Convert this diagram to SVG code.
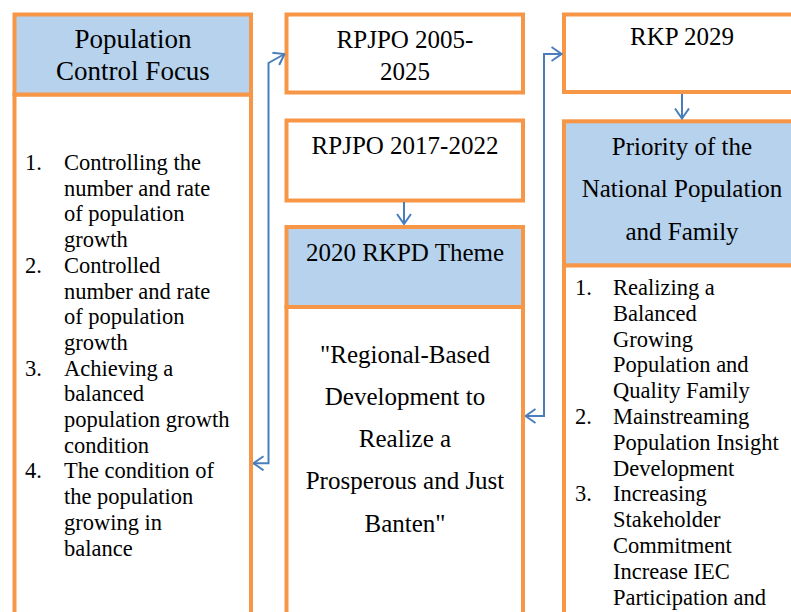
<svg xmlns="http://www.w3.org/2000/svg" width="791" height="612" viewBox="0 0 791 612">
  <style>
    .box { fill: #ffffff; stroke: #F79646; stroke-width: 4; }
    .head { fill: #B7D2EC; stroke: #F79646; stroke-width: 4; }
    text { fill: #000000; }
    .h { font-size: 25px; text-anchor: middle; }
    .list { font-size: 22.5px; }
    .conn { fill: none; stroke: #4A7EBB; stroke-width: 2; }
  </style>
  <defs>
    <marker id="arrow" viewBox="0 0 12 16" refX="11" refY="8" markerWidth="12" markerHeight="16" markerUnits="userSpaceOnUse" orient="auto-start-reverse">
      <path d="M1,1 L11,8 L1,15" fill="none" stroke="#4A7EBB" stroke-width="2"/>
    </marker>
  </defs>

  <rect x="0" y="0" width="791" height="612" fill="#ffffff"/>

  <g font-family="Times New Roman, Liberation Serif, DejaVu Serif, serif">
  <!-- Left column -->
  <g id="population-control-focus">
    <rect class="box" x="14.5" y="94.5" width="236.5" height="540"/>
    <rect class="head" x="14.5" y="14.5" width="236.5" height="80"/>
    <text x="133" y="48" font-size="27" text-anchor="middle">Population</text>
    <text x="133" y="80" font-size="27" text-anchor="middle">Control Focus</text>
    <g class="list">
      <text x="25" y="170">1.</text>
      <text x="64" y="170">Controlling the</text>
      <text x="64" y="195.7">number and rate</text>
      <text x="64" y="221.4">of population</text>
      <text x="64" y="247.1">growth</text>
      <text x="25" y="272.8">2.</text>
      <text x="64" y="272.8">Controlled</text>
      <text x="64" y="298.5">number and rate</text>
      <text x="64" y="324.2">of population</text>
      <text x="64" y="349.9">growth</text>
      <text x="25" y="375.6">3.</text>
      <text x="64" y="375.6">Achieving a</text>
      <text x="64" y="401.3">balanced</text>
      <text x="64" y="427">population growth</text>
      <text x="64" y="452.7">condition</text>
      <text x="25" y="478.4">4.</text>
      <text x="64" y="478.4">The condition of</text>
      <text x="64" y="504.1">the population</text>
      <text x="64" y="529.8">growing in</text>
      <text x="64" y="555.5">balance</text>
    </g>
  </g>

  <!-- Middle column -->
  <g id="rpjpo-2005-2025">
    <rect class="box" x="286.5" y="14.5" width="236.5" height="78"/>
    <text class="h" x="405" y="48" font-size="26">RPJPO 2005-</text>
    <text class="h" x="405" y="80" font-size="26">2025</text>
  </g>

  <g id="rpjpo-2017-2022">
    <rect class="box" x="286.5" y="120.5" width="236.5" height="80"/>
    <text class="h" x="405" y="154">RPJPO 2017-2022</text>
  </g>

  <g id="rkpd-theme-2020">
    <rect class="box" x="286.5" y="307" width="236.5" height="330"/>
    <rect class="head" x="286.5" y="227" width="236.5" height="80"/>
    <text class="h" x="405" y="261">2020 RKPD Theme</text>
    <text class="h" x="405" y="363">"Regional-Based</text>
    <text class="h" x="405" y="405">Development to</text>
    <text class="h" x="405" y="447">Realize a</text>
    <text class="h" x="405" y="489">Prosperous and Just</text>
    <text class="h" x="405" y="531.5">Banten"</text>
  </g>

  <!-- Right column -->
  <g id="rkp-2029">
    <rect class="box" x="564" y="14.5" width="240" height="77.5"/>
    <text class="h" x="682" y="45">RKP 2029</text>
  </g>

  <g id="national-population-family-priority">
    <rect class="box" x="564" y="265.3" width="240" height="370"/>
    <rect class="head" x="564" y="121.3" width="240" height="144"/>
    <text class="h" x="682" y="155">Priority of the</text>
    <text class="h" x="682" y="197">National Population</text>
    <text class="h" x="682" y="239.5">and Family</text>
    <g class="list">
      <text x="575" y="295">1.</text>
      <text x="613" y="295">Realizing a</text>
      <text x="613" y="320.8">Balanced</text>
      <text x="613" y="346.6">Growing</text>
      <text x="613" y="372.4">Population and</text>
      <text x="613" y="398.2">Quality Family</text>
      <text x="575" y="424">2.</text>
      <text x="613" y="424">Mainstreaming</text>
      <text x="613" y="449.8">Population Insight</text>
      <text x="613" y="475.6">Development</text>
      <text x="575" y="501.4">3.</text>
      <text x="613" y="501.4">Increasing</text>
      <text x="613" y="527.2">Stakeholder</text>
      <text x="613" y="553">Commitment</text>
      <text x="613" y="578.8">Increase IEC</text>
      <text x="613" y="604.6">Participation and</text>
    </g>
  </g>
  </g>

  <!-- Connectors -->
  <g id="connectors">
    <path class="conn" d="M404,202 L404,224" marker-end="url(#arrow)"/>
    <path class="conn" d="M682,94 L682,118.5" marker-end="url(#arrow)"/>
    <path class="conn" d="M253.5,463.3 L268.5,463.3 L268.5,63 L284.5,54" marker-start="url(#arrow)" marker-end="url(#arrow)"/>
    <path class="conn" d="M525.5,416 L544,416 L544,54 L561.5,54" marker-start="url(#arrow)" marker-end="url(#arrow)"/>
  </g>
</svg>
